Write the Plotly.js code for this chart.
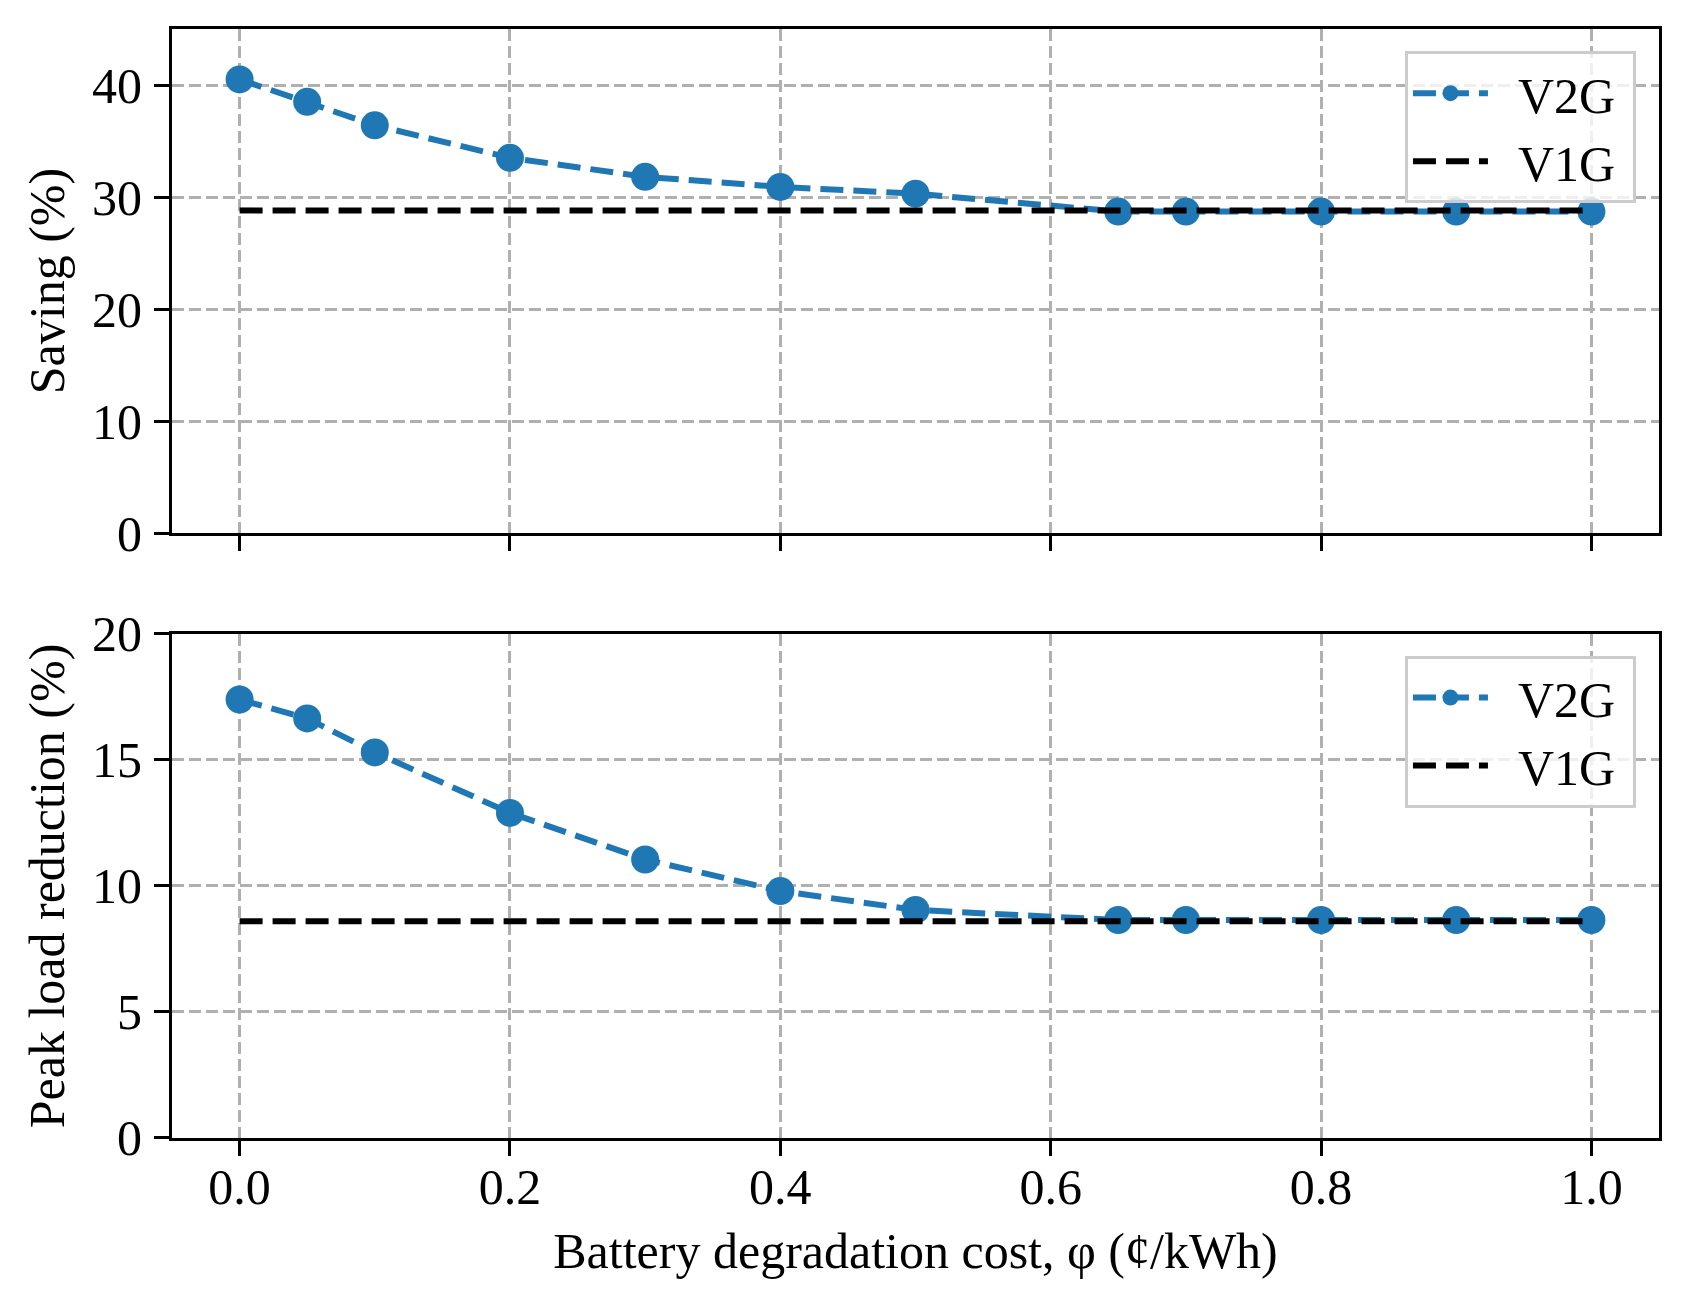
<!DOCTYPE html>
<html>
<head>
<meta charset="utf-8">
<script src="https://cdn.plot.ly/plotly-3.0.1.min.js"></script>
<style>
  html, body { margin: 0; padding: 0; background: #fff; }
  #myDiv { width: 1689px; height: 1306px; }
</style>
</head>
<body>
<div id="myDiv"></div>
<script>
// battery degradation cost (cents/kWh)
var phi = [0.0, 0.05, 0.1, 0.2, 0.3, 0.4, 0.5, 0.65, 0.7, 0.8, 0.9, 1.0];

// saving (%)
var savingV2G = [40.5, 38.5, 36.4, 33.5, 31.8, 30.9, 30.3, 28.7, 28.7, 28.7, 28.7, 28.7];
var savingV1G = [28.8, 28.8, 28.8, 28.8, 28.8, 28.8, 28.8, 28.8, 28.8, 28.8, 28.8, 28.8];

// peak load reduction (%)
var peakV2G = [17.4, 16.65, 15.3, 12.9, 11.05, 9.8, 9.05, 8.65, 8.65, 8.65, 8.65, 8.65];
var peakV1G = [8.6, 8.6, 8.6, 8.6, 8.6, 8.6, 8.6, 8.6, 8.6, 8.6, 8.6, 8.6];

var FONT = '"Liberation Serif", "Times New Roman", serif';
var BLUE = '#1f77b4';
var SP = '\u00a0';

function v2g(y, xa, ya, leg) {
  return {
    x: phi, y: y, xaxis: xa, yaxis: ya, legend: leg,
    mode: 'lines+markers', name: SP + SP + 'V2G' + SP,
    line: { color: BLUE, width: 6, dash: '23px,10px' },
    marker: { color: BLUE, size: 28 }
  };
}
function v1g(y, xa, ya, leg) {
  return {
    x: phi, y: y, xaxis: xa, yaxis: ya, legend: leg,
    mode: 'lines', name: SP + SP + 'V1G' + SP,
    line: { color: '#000000', width: 6, dash: '23px,10px' }
  };
}

var data = [
  v2g(savingV2G, 'x', 'y', 'legend'),
  v1g(savingV1G, 'x', 'y', 'legend'),
  v2g(peakV2G, 'x2', 'y2', 'legend2'),
  v1g(peakV1G, 'x2', 'y2', 'legend2')
];

var xbase = {
  range: [-0.05, 1.05], dtick: 0.2, tick0: 0, tickformat: '.1f',
  showline: true, linecolor: '#000', linewidth: 3, mirror: true,
  ticks: 'outside', ticklen: 15, tickwidth: 3, tickcolor: '#000',
  showgrid: true, gridcolor: '#b0b0b0', gridwidth: 3, griddash: '12px,5px',
  zeroline: false, ticklabelstandoff: -12
};
var ybase = {
  showline: true, linecolor: '#000', linewidth: 3, mirror: true,
  ticks: 'outside', ticklen: 15, tickwidth: 3, tickcolor: '#000',
  showgrid: true, gridcolor: '#b0b0b0', gridwidth: 3, griddash: '12px,5px',
  zeroline: false, ticklabelstandoff: 2
};

var legbase = {
  xanchor: 'right', yanchor: 'top', x: 0.9845,
  bgcolor: 'rgba(255,255,255,0.8)', bordercolor: '#cccccc', borderwidth: 3,
  font: { family: FONT, size: 50, color: '#000' },
  itemwidth: 75
};

var layout = {
  width: 1689, height: 1306,
  paper_bgcolor: '#fff', plot_bgcolor: '#fff',
  font: { family: FONT, size: 50, color: '#000' },
  margin: { l: 172, r: 30, t: 29, b: 168 },
  showlegend: true,
  xaxis: Object.assign({}, xbase, { anchor: 'y', showticklabels: false, matches: 'x2' }),
  yaxis: Object.assign({}, ybase, {
    domain: [0.5455, 1], range: [0, 45], dtick: 10,
    title: { text: 'Saving (%)', font: { family: FONT, size: 50 }, standoff: 12 }
  }),
  xaxis2: Object.assign({}, xbase, {
    anchor: 'y2',
    title: { text: 'Battery degradation cost, φ (¢/kWh)', font: { family: FONT, size: 50 }, standoff: 19 }
  }),
  yaxis2: Object.assign({}, ybase, {
    domain: [0, 0.4545], range: [0, 20], dtick: 5,
    title: { text: 'Peak load reduction (%)', font: { family: FONT, size: 50 }, standoff: 12 }
  }),
  legend: Object.assign({}, legbase, { y: 0.98 }),
  legend2: Object.assign({}, legbase, { y: 0.435 })
};

Plotly.newPlot('myDiv', data, layout, { displayModeBar: false, staticPlot: true });
</script>
</body>
</html>
